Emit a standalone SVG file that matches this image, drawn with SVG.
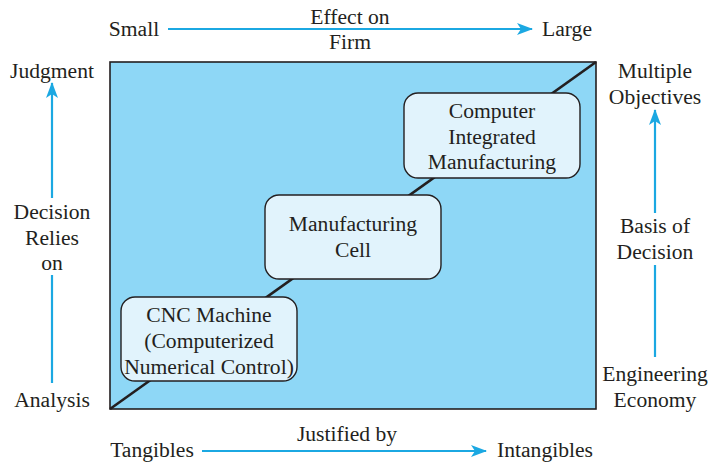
<svg xmlns="http://www.w3.org/2000/svg" width="708" height="462" viewBox="0 0 708 462">
<style>
text{font-family:"Liberation Serif","Times New Roman",serif;font-size:21.6px;fill:#231f20;text-anchor:middle}
.ar{stroke:#1ba8e2;stroke-width:2.2;fill:none}
.box{fill:#e1f3fc;stroke:#231f20;stroke-width:1.4}
</style>
<defs>
<marker id="ah" viewBox="0 0 16 12" refX="15" refY="6" markerWidth="16" markerHeight="12" markerUnits="userSpaceOnUse" orient="auto">
<path d="M0,0 L16,6 L0,12 L4,6 Z" fill="#1ba8e2"/>
</marker>
</defs>
<g id="chart">
<rect x="110" y="62" width="486" height="347" fill="#8ed7f6" stroke="#231f20" stroke-width="1.6"/>
<line x1="110" y1="409" x2="596" y2="62" stroke="#231f20" stroke-width="2.6"/>
</g>
<g id="connectors">
<line class="ar" x1="168" y1="29" x2="532" y2="29" marker-end="url(#ah)"/>
<line class="ar" x1="202" y1="451" x2="486" y2="451" marker-end="url(#ah)"/>
<line class="ar" x1="52" y1="198" x2="52" y2="83" marker-end="url(#ah)"/>
<line class="ar" x1="52" y1="383" x2="52" y2="275"/>
<line class="ar" x1="655" y1="213" x2="655" y2="110" marker-end="url(#ah)"/>
<line class="ar" x1="655" y1="357" x2="655" y2="265"/>
</g>
<g id="cnc">
<rect class="box" x="121" y="297" width="176" height="84" rx="14"/>
<text x="209" y="322">CNC Machine</text>
<text x="209" y="348">(Computerized</text>
<text x="209" y="374">Numerical Control)</text>
</g>
<g id="cell">
<rect class="box" x="265" y="195" width="176" height="84" rx="14"/>
<text x="353" y="231">Manufacturing</text>
<text x="353" y="257">Cell</text>
</g>
<g id="cim">
<rect class="box" x="404" y="93" width="176" height="85" rx="14"/>
<text x="492" y="118">Computer</text>
<text x="492" y="144">Integrated</text>
<text x="492" y="169">Manufacturing</text>
</g>
<g id="labels">
<text x="134" y="36">Small</text>
<text x="567" y="36">Large</text>
<text x="350" y="24">Effect on</text>
<text x="350" y="49">Firm</text>
<text x="52" y="78">Judgment</text>
<text x="52" y="219">Decision</text>
<text x="52" y="245">Relies</text>
<text x="52" y="270">on</text>
<text x="52" y="407">Analysis</text>
<text x="655" y="78">Multiple</text>
<text x="655" y="104">Objectives</text>
<text x="655" y="233">Basis of</text>
<text x="655" y="259">Decision</text>
<text x="655" y="381">Engineering</text>
<text x="655" y="407">Economy</text>
<text x="152" y="457">Tangibles</text>
<text x="347" y="441">Justified by</text>
<text x="545" y="457">Intangibles</text>
</g>
</svg>
